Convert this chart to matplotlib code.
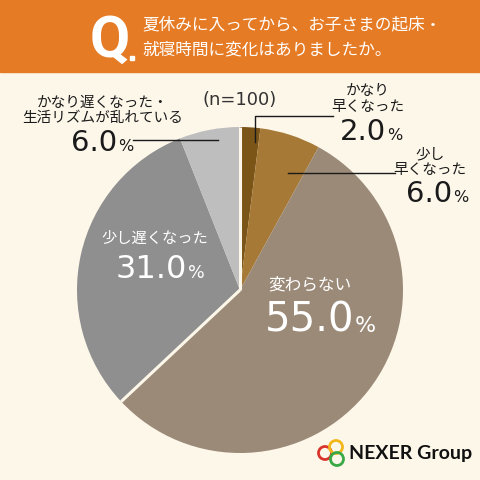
import numpy as np
import matplotlib.pyplot as plt
from matplotlib.patches import Rectangle, Circle

# データ
labels = ['かなり\n早くなった', '少し\n早くなった', '変わらない', '少し遅くなった',
          'かなり遅くなった・\n生活リズムが乱れている']
values = [2.0, 6.0, 55.0, 31.0, 6.0]
colors = ['#7b5418', '#a67937', '#9b8a78', '#8f8f8f', '#bebebe']
n_total = 100

JP = ['Noto Sans CJK JP', 'DejaVu Sans']
NUM = ['DejaVu Sans']
BG = '#fdf7ea'

fig = plt.figure(figsize=(4.8, 4.8), dpi=100)
fig.patch.set_facecolor(BG)
ax = fig.add_axes([0, 0, 1, 1])

# 円グラフ
cx, cy, r = 240, 190, 163
wedges, _ = ax.pie(values, colors=colors, startangle=90, counterclock=False,
                   center=(cx, cy), radius=r, frame=True)
ax.set_xlim(0, 480)
ax.set_ylim(0, 480)
ax.set_aspect('equal')
ax.axis('off')

# ヘッダー
ax.add_patch(Rectangle((0, 408), 480, 72, color='#e67b25', zorder=1))
ax.text(110, 439, 'Q', color='white', fontsize=42, fontweight='bold',
        family=['Roboto'], ha='center', va='center', zorder=2)
ax.add_patch(Rectangle((130, 420), 4, 4, color='white', zorder=2))
ax.text(142, 455, '夏休みに入ってから、お子さまの起床・', color='white', fontsize=12,
        family=JP, ha='left', va='center', zorder=2)
ax.text(142, 430, '就寝時間に変化はありましたか。', color='white', fontsize=12,
        family=JP, ha='left', va='center', zorder=2)

# 早い・変わらない と 遅い の境界線
for ang in [wedges[0].theta2, wedges[2].theta1]:
    a = np.deg2rad(ang)
    ax.plot([cx, cx + r * np.cos(a)], [cy, cy + r * np.sin(a)],
            color=BG, lw=2.2, solid_capstyle='butt', zorder=3)


def pct(x, y, v, size, color='#1a1a1a'):
    ax.text(x, y, f'{v:.1f}', fontsize=size, family=NUM, color=color,
            ha='right', va='baseline', zorder=4)
    ax.text(x + 1, y, '%', fontsize=size * 0.55, family=NUM, color=color,
            ha='left', va='baseline', zorder=4)


ax.text(240, 380, f'(n={n_total})', fontsize=13, family=NUM, color='#333333',
        ha='center', va='center')

# かなり早くなった
ax.text(368, 381, labels[0], fontsize=10.5, family=JP, color='#1a1a1a',
        ha='center', va='center', linespacing=1.1)
pct(386, 340, values[0], 21)
ax.plot([255, 255, 333], [338, 364, 364], color='#1a1a1a', lw=1, zorder=4)

# 少し早くなった
ax.text(430, 318, labels[1], fontsize=10.5, family=JP, color='#1a1a1a',
        ha='center', va='center', linespacing=1.1)
pct(452, 278, values[1], 21)
ax.plot([288, 395], [307, 307], color='#1a1a1a', lw=1, zorder=4)

# かなり遅くなった
ax.text(103, 370, labels[4], fontsize=10.5, family=JP, color='#1a1a1a',
        ha='center', va='center', linespacing=1.1)
pct(117, 329, values[4], 21)
ax.plot([133, 218], [340, 340], color='#1a1a1a', lw=1, zorder=4)

# 少し遅くなった
ax.text(155, 242, labels[3], fontsize=11, family=JP, color='white',
        ha='center', va='center', zorder=4)
pct(187, 202, values[3], 23, color='white')

# 変わらない
ax.text(310, 195, labels[2], fontsize=12, family=JP, color='white',
        ha='center', va='center', zorder=4)
pct(354, 148, values[2], 29, color='white')

# ロゴ
for (x, y, c) in [(325, 27, '#d9342b'), (336, 33, '#f2b71b'), (337, 21, '#3aa845')]:
    ax.add_patch(Circle((x, y), 6.5, fill=False, ec=c, lw=2, zorder=4))
ax.text(349, 27, 'NEXER Group', fontsize=14, fontweight='bold', family=['Lato'],
        color='#111111', ha='left', va='center', zorder=4)

fig.savefig('out.png', dpi=100, facecolor=fig.get_facecolor())
